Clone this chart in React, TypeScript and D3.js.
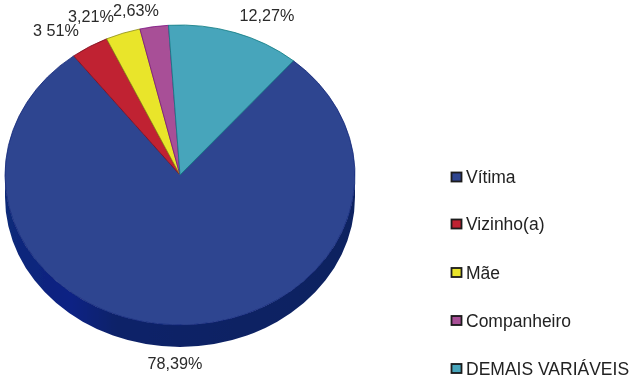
import React from "react";
import * as d3 from "d3";

const categories = ["Vítima", "Vizinho(a)", "Mãe", "Companheiro", "DEMAIS VARIÁVEIS"];
const values = [78.39, 3.51, 3.21, 2.63, 12.27];
const colors = ["#2d4490", "#c02032", "#e9e52c", "#a84f97", "#47a5bb"];
const edgeColors = ["#14287a", "#7a1020", "#8a8a10", "#7a1080", "#0e7a80"];
const valueLabels = ["78,39%", "3 51%", "3,21%", "2,63%", "12,27%"];
const labelX = [175, 56, 91, 136, 267];
const labelY = [369, 36, 22, 16, 21];
const legendY = [177, 224, 272.5, 320.5, 368.5];

const W = 640, H = 379;
const cx = 180, cy = 175, rx = 175, ry = 150, depth = 22;
const start = (40.4 * Math.PI) / 180;

export default function App() {
  const pie = d3.pie<number>().sort(null).startAngle(start).endAngle(start + 2 * Math.PI);
  const arcs = pie(values);
  const arc = d3.arc<d3.PieArcDatum<number>>().innerRadius(0).outerRadius(rx);
  const side = `M${cx - rx},${cy} A${rx},${ry} 0 0 0 ${cx + rx},${cy} L${cx + rx},${cy + depth} A${rx},${ry} 0 0 1 ${cx - rx},${cy + depth} Z`;
  const font = "'Liberation Sans', Arial, sans-serif";
  return (
    <svg width={W} height={H} viewBox={`0 0 ${W} ${H}`} style={{ position: "absolute", left: 0, top: 0, background: "#fff" }}>
      <defs>
        <linearGradient id="side" x1="0" x2="1" y1="0" y2="0">
          <stop offset="0" stopColor="#0f2a78" />
          <stop offset="0.19" stopColor="#0a2084" />
          <stop offset="0.32" stopColor="#0b2068" />
          <stop offset="1" stopColor="#0b2060" />
        </linearGradient>
        <filter id="soft" x="-5%" y="-5%" width="110%" height="110%">
          <feGaussianBlur stdDeviation="0.45" />
        </filter>
      </defs>
      <g filter="url(#soft)">
        <path d={side} fill="url(#side)" />
        <g transform={`translate(${cx},${cy}) scale(1,${ry / rx})`}>
          {arcs.map((a, i) => (
            <path key={categories[i]} d={arc(a) ?? ""} fill={colors[i]} stroke={edgeColors[i]} strokeWidth={0.8} vectorEffect="non-scaling-stroke" />
          ))}
        </g>
      </g>
      <g fontFamily={font} fontSize={16.2} fill="#2a2a2a" filter="url(#soft)">
        {valueLabels.map((t, i) => (
          <text key={t} x={labelX[i]} y={labelY[i]} textAnchor="middle">{t}</text>
        ))}
      </g>
      <g fontFamily={font} fontSize={17.5} fill="#222" filter="url(#soft)">
        {categories.map((c, i) => (
          <g key={c}>
            <rect x={451.5} y={legendY[i] - 4.5} width={10} height={9} fill={colors[i]} stroke="#1a1a1a" strokeWidth={1.8} />
            <text x={466} y={legendY[i] + 6}>{c}</text>
          </g>
        ))}
      </g>
    </svg>
  );
}
